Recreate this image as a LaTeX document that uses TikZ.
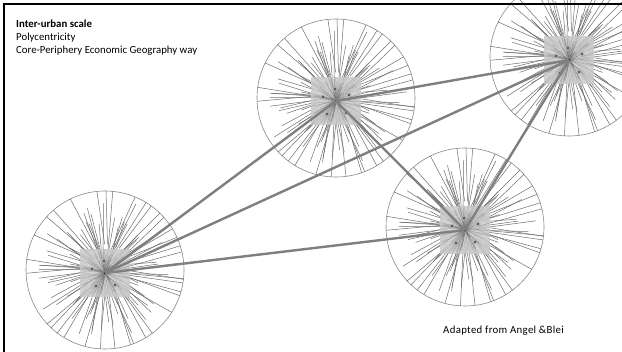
\documentclass[tikz,border=0pt]{standalone}
\usepackage{fontspec}
\setmainfont{Carlito}
\usetikzlibrary{calc}
\definecolor{spokegray}{HTML}{6E6E6E}
\definecolor{rimgray}{HTML}{8A8A8A}
\definecolor{linkgray}{HTML}{7F7F7F}
\tikzset{
  rim/.style={draw=rimgray, line width=0.6pt},
  spoke/.style={draw=spokegray, line width=0.5pt},
  fine/.style={draw=black!60, line width=0.25pt, opacity=0.5},
  core/.style={fill=gray!42, fill opacity=0.85},
  link/.style={draw=linkgray, line width=2.4pt},
  frame/.style={draw=black, line width=2.6pt},
  label/.style={font=\fontsize{10.8}{13}\selectfont, inner sep=0pt},
  % one city: rim, radial spokes, core square with sub-centres
  burst/.pic={
    \pgfmathsetseed{4711}
    \draw[rim] (0,0) circle[radius=79];
    \foreach \k in {1,...,105}{
      \pgfmathsetmacro\ang{\k*3.43+rnd*7}
      \pgfmathsetmacro\sh{(rnd-0.5)*8}
      \pgfmathsetmacro\ri{2+rnd*24}
      \pgfmathsetmacro\hit{rnd}
      \pgfmathsetmacro\ro{\hit<0.27 ? sqrt(6241-\sh*\sh) : 32+rnd*44}
      \draw[spoke] ($(\ang:\ri)+(\ang+90:\sh)$) -- ($(\ang:\ro)+(\ang+90:\sh)$);
    }
    \fill[core] (-25,-21) rectangle (25,27);
    \foreach \k in {1,...,120}{
      \pgfmathsetmacro\ang{rnd*360}
      \pgfmathsetmacro\ln{4+rnd*22}
      \draw[fine] (0,3) -- ++(\ang:\ln);
    }
    \foreach \p in {(-1,-9),(13,-3),(-13,-1),(-9,16),(10,15)}{
      \fill[black!35, opacity=0.6] \p circle[radius=2.6];
      \fill[black!75] \p circle[radius=1.2];
    }
    \fill[black!40, opacity=0.6] (0,3) circle[radius=3.2];
    \fill[black!85] (0,3) circle[radius=1.7];
  }
}
\begin{document}
\begin{tikzpicture}[x=1pt, y=-1pt]
  \useasboundingbox (0,0) rectangle (622,352);
  \begin{scope}
    \clip (0,0) rectangle (622,352);
    \fill[white] (0,0) rectangle (622,352);

    % four cities
    \pic at (105,270) {burst};
    \pic at (465,227) {burst};
    \pic at (336,98) {burst};
    \pic at (569,57) {burst};

    % city cores
    \coordinate (h1) at (105,273);
    \coordinate (h2) at (465,230);
    \coordinate (h3) at (336,101);
    \coordinate (h4) at (569,60);

    % inter-urban links
    \draw[link] (h1) -- (h3);
    \draw[link] (h1) -- (h4);
    \draw[link] (h1) -- (h2);
    \draw[link] (h3) -- (h4);
    \draw[link] (h3) -- (h2);
    \draw[link] (h2) -- (h4);

    % frame on the top and left
    \draw[frame] (4,352) -- (4,4) -- (622,4);
  \end{scope}

  \node[label, anchor=north west, align=left] (title) at (16,20)
    {\textbf{Inter-urban scale}\\Polycentricity\\Core-Periphery Economic Geography way};
  \node[label, anchor=west, font=\fontsize{10.8}{13}\selectfont\addfontfeature{LetterSpace=3}]
    (credit) at (443,331) {Adapted from Angel \&Blei};
\end{tikzpicture}
\end{document}
